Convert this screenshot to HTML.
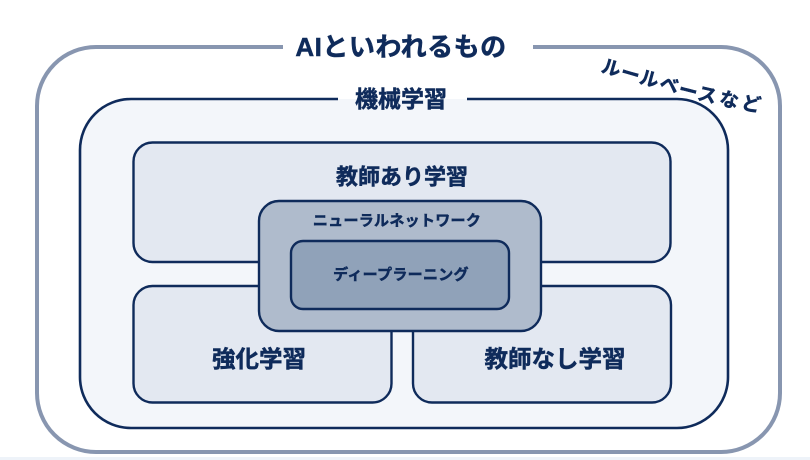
<!DOCTYPE html>
<html>
<head>
<meta charset="utf-8">
<style>
  html, body { margin: 0; padding: 0; background: #ffffff; }
  body { width: 810px; height: 460px; overflow: hidden; position: relative; }
  svg { position: absolute; left: 0; top: 0; display: block; }
  text { font-family: "Liberation Sans", "Noto Sans CJK JP", sans-serif; font-weight: bold; fill: #0f2b5b; stroke: #0f2b5b; stroke-width: 0.5; }
</style>
</head>
<body>
<svg width="810" height="460" viewBox="0 0 810 460" xmlns="http://www.w3.org/2000/svg">
  <rect x="0" y="0" width="810" height="460" fill="#ffffff"/>
  <rect x="0" y="457" width="810" height="3" fill="#eef3f9"/>

  <!-- Outer: AI -->
  <path d="M533,47 H721 A59,59 0 0 1 780,106 V393 A59,59 0 0 1 721,452 H96 A59,59 0 0 1 37,393 V106 A59,59 0 0 1 96,47 H283"
        fill="none" stroke="#8896b0" stroke-width="4" stroke-linecap="butt"/>

  <!-- Machine learning -->
  <rect x="80" y="99" width="648" height="329" rx="51" ry="51" fill="#f3f6fa"/>
  <path d="M467,99 H677 A51,51 0 0 1 728,150 V377 A51,51 0 0 1 677,428 H131 A51,51 0 0 1 80,377 V150 A51,51 0 0 1 131,99 H338"
        fill="none" stroke="#0f2b5b" stroke-width="2.6"/>

  <!-- Sub boxes -->
  <rect x="133.5" y="142.5" width="537" height="119.5" rx="19" ry="19" fill="#e3e8f1" stroke="#0f2b5b" stroke-width="2.4"/>
  <rect x="133.5" y="286" width="258" height="116.5" rx="19" ry="19" fill="#e3e8f1" stroke="#0f2b5b" stroke-width="2.4"/>
  <rect x="413" y="286" width="258" height="116.5" rx="19" ry="19" fill="#e3e8f1" stroke="#0f2b5b" stroke-width="2.4"/>

  <!-- Neural network -->
  <rect x="259" y="201" width="282" height="130" rx="20" ry="20" fill="#afbbcc" stroke="#0f2b5b" stroke-width="2.4"/>
  <!-- Deep learning -->
  <rect x="291" y="241" width="218" height="68" rx="12" ry="12" fill="#90a2b9" stroke="#0f2b5b" stroke-width="2.4"/>

  <!-- Labels -->
  <text x="401" y="47" font-size="26" letter-spacing="0.5" text-anchor="middle" dominant-baseline="central">AIといわれるもの</text>
  <text x="401" y="99" font-size="23" text-anchor="middle" dominant-baseline="central">機械学習</text>
  <text x="402" y="177" font-size="22" text-anchor="middle" dominant-baseline="central">教師あり学習</text>
  <text x="397" y="221" font-size="15" letter-spacing="0.3" text-anchor="middle" dominant-baseline="central">ニューラルネットワーク</text>
  <text x="401" y="275" font-size="15" letter-spacing="0.3" text-anchor="middle" dominant-baseline="central">ディープラーニング</text>
  <text x="259" y="359" font-size="23.5" text-anchor="middle" dominant-baseline="central">強化学習</text>
  <text x="555" y="359" font-size="23.5" text-anchor="middle" dominant-baseline="central">教師なし学習</text>

  <!-- Rule-based (slanted) -->
  <g font-size="19">
    <text x="611" y="69" text-anchor="middle" dominant-baseline="central" transform="rotate(16 611 69)">ル</text>
    <text x="630" y="75" text-anchor="middle" dominant-baseline="central" transform="rotate(16 630 75)">ー</text>
    <text x="649" y="80" text-anchor="middle" dominant-baseline="central" transform="rotate(15 649 80)">ル</text>
    <text x="669" y="86" text-anchor="middle" dominant-baseline="central" transform="rotate(15 669 86)">ベ</text>
    <text x="688" y="92" text-anchor="middle" dominant-baseline="central" transform="rotate(14 688 92)">ー</text>
    <text x="707" y="96" text-anchor="middle" dominant-baseline="central" transform="rotate(13 707 96)">ス</text>
    <text x="729" y="101" text-anchor="middle" dominant-baseline="central" transform="rotate(12 729 101)">な</text>
    <text x="751" y="105" text-anchor="middle" dominant-baseline="central" transform="rotate(11 751 105)">ど</text>
  </g>
</svg>
</body>
</html>
